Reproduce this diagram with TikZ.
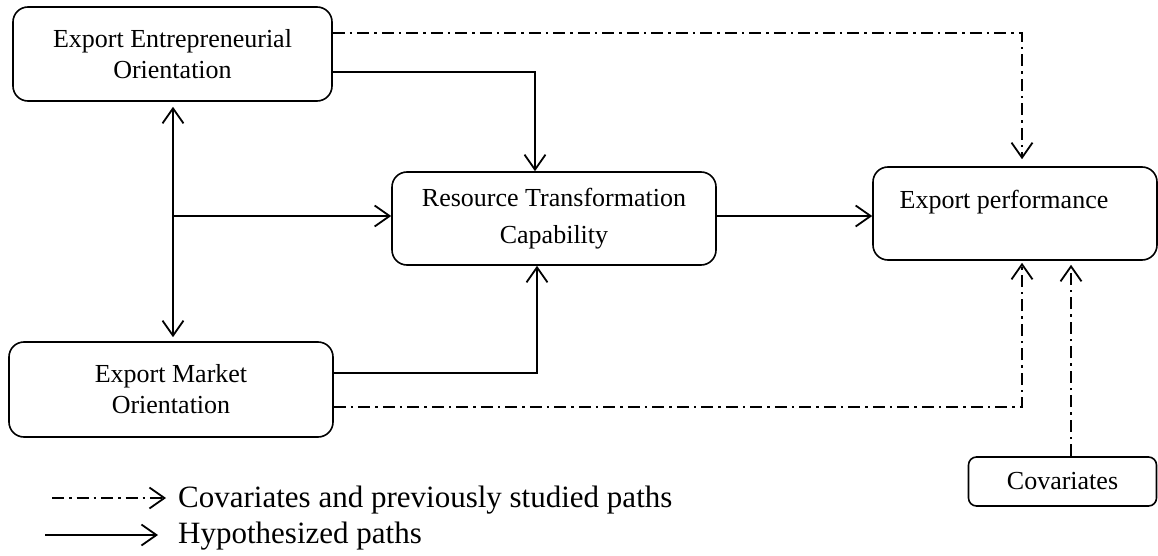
\documentclass[tikz,border=0pt]{standalone}
\usepackage{fontspec}
\setmainfont{Liberation Serif}
\usetikzlibrary{arrows.meta}
\begin{document}
\begin{tikzpicture}[x=1pt,y=-1pt,
  >={Straight Barb[length=15pt,width=21pt]},
  box/.style={draw, line width=1.6pt, rounded corners=15pt, align=center,
    font=\fontsize{26}{31}\selectfont, inner sep=0pt},
  hyp/.style={line width=1.8pt},
  cov/.style={line width=1.8pt, dash pattern=on 12pt off 5pt on 2.5pt off 5pt},
  legtext/.style={anchor=base west, inner sep=0pt, font=\fontsize{31}{36}\selectfont}
]
\useasboundingbox (0,0) rectangle (1158,556);

% boxes
\node[box, minimum width=319pt, minimum height=94pt] (EEO) at (172.5,54) {Export Entrepreneurial\\Orientation};
\node[box, minimum width=324pt, minimum height=93pt] (RTC) at (554,218.5) {Resource Transformation\\[6pt]Capability};
\node[box, minimum width=284pt, minimum height=93pt] (EP) at (1015,213.5) {};
\node[inner sep=0pt, font=\fontsize{26}{31}\selectfont] (EPt) at (1004,202) {Export performance};
\node[box, minimum width=324pt, minimum height=95pt] (EMO) at (171,389.5) {Export Market\\Orientation};
\node[box, rounded corners=8pt, minimum width=188pt, minimum height=49pt] (COV) at (1062.5,481.5) {Covariates};

% spine junction
\coordinate (J) at (173,216);

% hypothesized paths
\draw[hyp,<->,shorten <=5pt,shorten >=4pt] (J |- EEO.south) -- (J |- EMO.north);
\draw[hyp,->] (J) -- (J -| RTC.west);
\draw[hyp,->] ([yshift=-18pt]EEO.east) -| ([xshift=-19pt]RTC.north);
\draw[hyp,->] ([yshift=16.5pt]EMO.east) -| ([xshift=-17pt]RTC.south);
\draw[hyp,->] (RTC.east |- J) -- (EP.west |- J);

% covariate / previously studied paths
\draw[cov,->,shorten >=7pt] ([yshift=21pt]EEO.east) -| ([xshift=7pt]EP.north);
\draw[cov,->,shorten >=2pt] ([yshift=-17.5pt]EMO.east) -| ([xshift=7pt]EP.south);
\draw[cov,->,shorten >=4pt] ([xshift=8.5pt]COV.north) -- ([xshift=8.5pt]COV.north |- EP.south);

% legend
\coordinate (L1a) at (52,498);
\coordinate (L1b) at (166,498);
\coordinate (L2a) at (45,535);
\coordinate (L2b) at (158,535);
\draw[cov,->] (L1a) -- (L1b);
\draw[hyp,->] (L2a) -- (L2b);
\node[legtext] (L1t) at (178,507) {Covariates and previously studied paths};
\node[legtext] (L2t) at (178,543) {Hypothesized paths};
\end{tikzpicture}
\end{document}
